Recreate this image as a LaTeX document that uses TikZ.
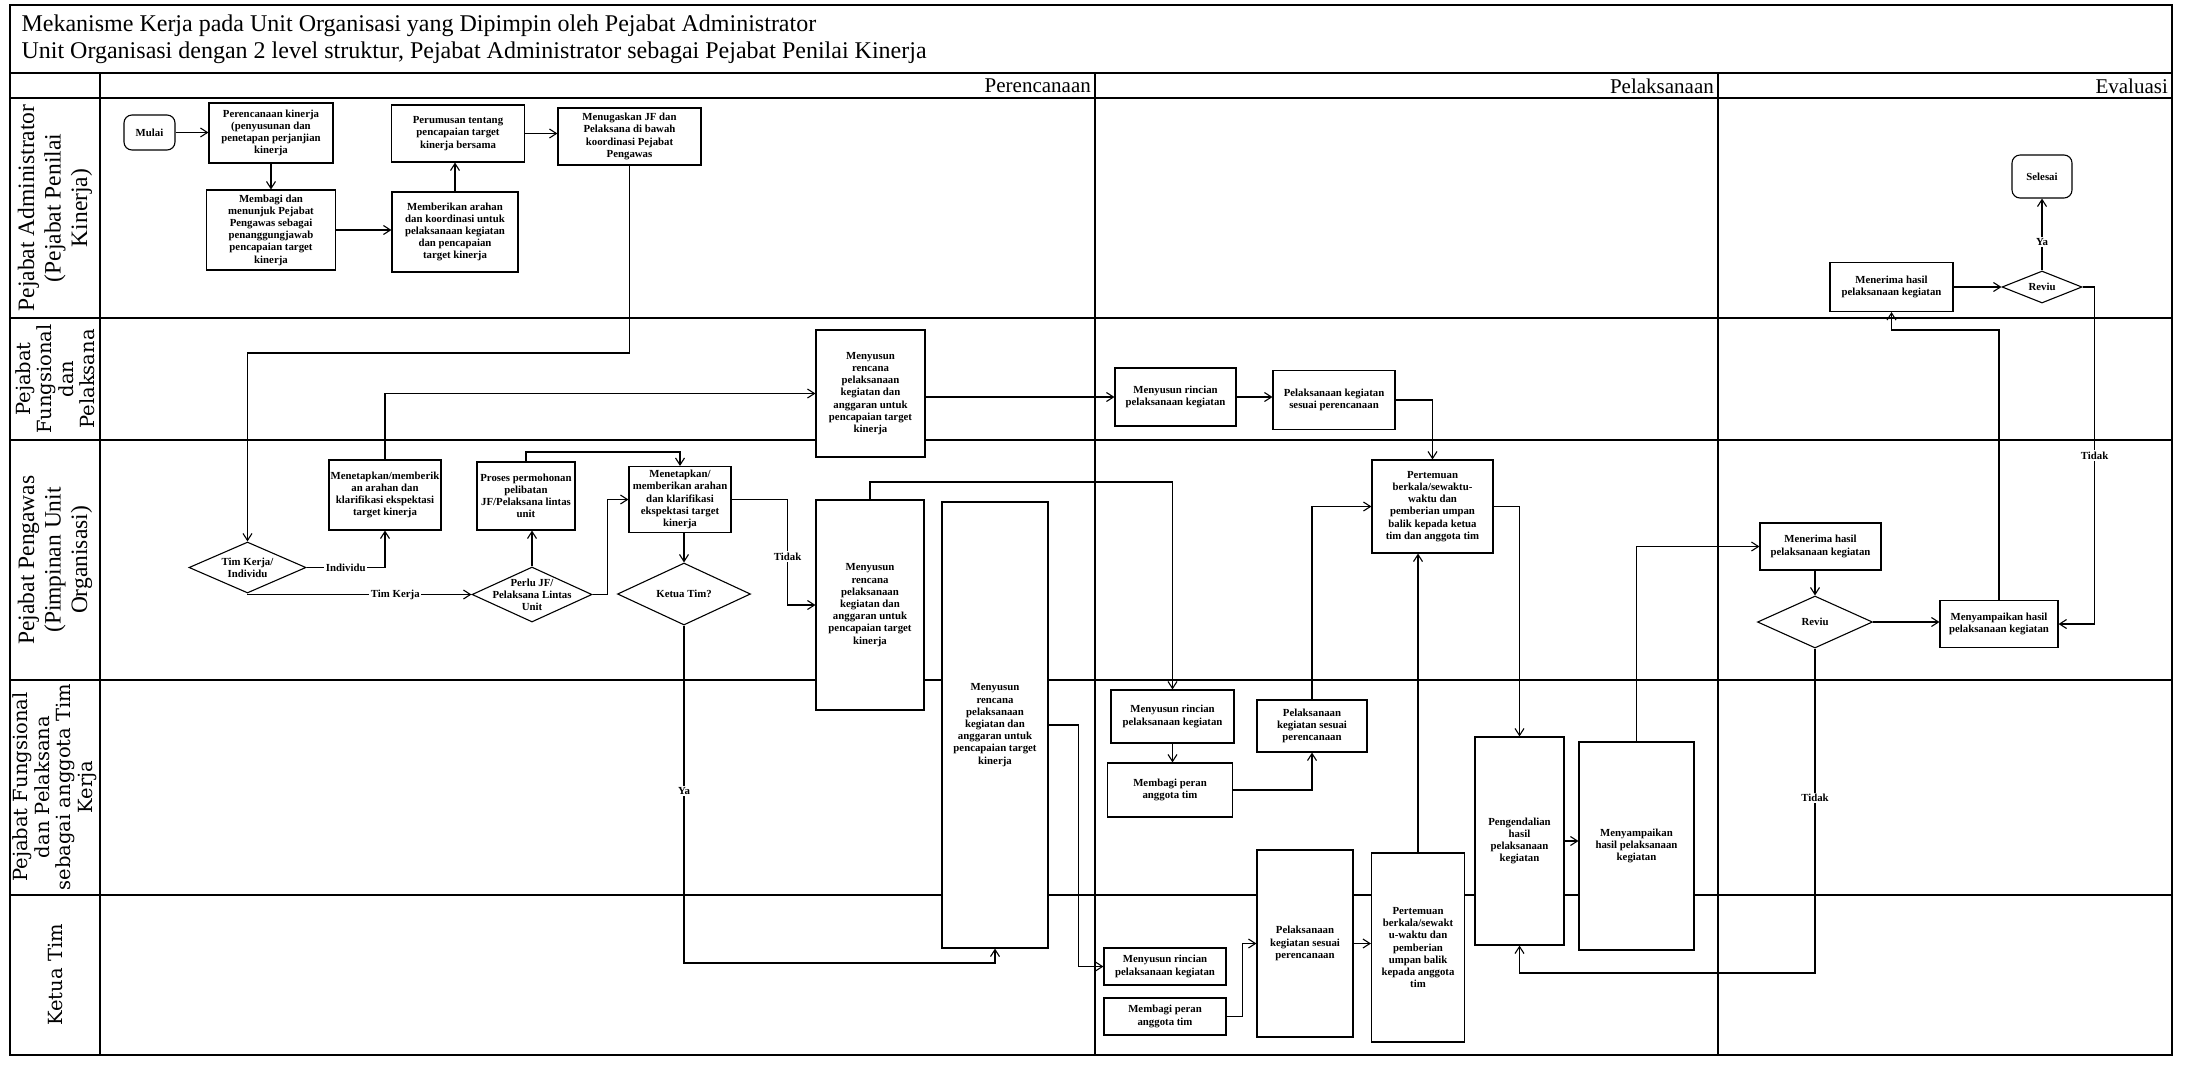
\documentclass[tikz,border=0pt]{standalone}
\usepackage{fontspec}
\setmainfont{Liberation Serif}
\newfontfamily\lanefont{DejaVu Serif}
\usetikzlibrary{shapes.geometric, arrows.meta, positioning}

\begin{document}
\begin{tikzpicture}[
  x=1pt, y=-1pt,
  box/.style={rectangle, draw, fill=white, line width=1.1pt, inner sep=1pt,
              font=\fontsize{10.8}{12.2}\selectfont\bfseries, align=center},
  term/.style={box, rounded corners=8pt},
  dia/.style={diamond, draw, fill=white, line width=1.1pt, inner sep=0pt},
  dtxt/.style={font=\fontsize{10.8}{12.2}\selectfont\bfseries, align=center},
  arr/.style={-{Straight Barb[length=7pt,width=9pt]}, line width=1.1pt},
  lbl/.style={fill=white, inner sep=1.5pt, font=\fontsize{10.8}{12.2}\selectfont\bfseries},
  lane/.style={line width=1.6pt},
  lanelbl/.style={rotate=90, align=center, font=\fontsize{23.5}{26.5}\selectfont},
  lanelbl2/.style={rotate=90, align=center, font=\lanefont\fontsize{19.5}{21.5}\selectfont},
  phase/.style={anchor=east, inner sep=1pt, font=\fontsize{21}{24}\selectfont},
]
  \useasboundingbox (0,0) rectangle (2202,1088);
  \draw[lane] (10,5) rectangle (2172,1055);
  \draw[lane] (10,73) -- (2172,73);
  \draw[lane] (10,98) -- (2172,98);
  \draw[lane] (100,73) -- (100,1055);
  \draw[lane] (1095,73) -- (1095,1055);
  \draw[lane] (1718,73) -- (1718,1055);
  \foreach \y in {318,440,680,895}
    \draw[lane] (10,\y) -- (2172,\y);

  \node[anchor=west, align=left, font=\fontsize{24}{27}\selectfont] (title) at (18,39)
    {Mekanisme Kerja pada Unit Organisasi yang Dipimpin oleh Pejabat Administrator\\
     Unit Organisasi dengan 2 level struktur, Pejabat Administrator sebagai Pejabat Penilai Kinerja};
  \node[phase] (hPlan) at (1092,86) {Perencanaan};
  \node[phase] (hExec) at (1715,86) {Pelaksanaan};
  \node[phase] (hEval) at (2169,86) {Evaluasi};

  \node[lanelbl] (lnAdm) at (55,208) {Pejabat Administrator\\(Pejabat Penilai\\Kinerja)};
  \node[lanelbl2] (lnJF) at (55,379) {Pejabat\\Fungsional\\dan\\Pelaksana};
  \node[lanelbl] (lnPeng) at (55,560) {Pejabat Pengawas\\(Pimpinan Unit\\Organisasi)};
  \node[lanelbl2] (lnAng) at (55,787) {Pejabat Fungsional\\dan Pelaksana\\sebagai anggota Tim\\Kerja};
  \node[lanelbl2] (lnKetua) at (55,975) {Ketua Tim};

  \node[term, minimum width=51, minimum height=35] (mulai) at (149.5,132.5) {Mulai};
  \node[box, minimum width=124, minimum height=60] (plan) at (271,133)
    {Perencanaan kinerja\\(penyusunan dan\\penetapan perjanjian\\kinerja};
  \node[box, minimum width=129, minimum height=80] (bagi) at (271,230)
    {Membagi dan\\menunjuk Pejabat\\Pengawas sebagai\\penanggungjawab\\pencapaian target\\kinerja};
  \node[box, minimum width=126, minimum height=80] (arah) at (455,232)
    {Memberikan arahan\\dan koordinasi untuk\\pelaksanaan kegiatan\\dan pencapaian\\target kinerja};
  \node[box, minimum width=133, minimum height=57] (rumus) at (458,133.5)
    {Perumusan tentang\\pencapaian target\\kinerja bersama};
  \node[box, minimum width=143, minimum height=57] (tugas) at (629.5,136.5)
    {Menugaskan JF dan\\Pelaksana di bawah\\koordinasi Pejabat\\Pengawas};

  \node[box, minimum width=109, minimum height=127] (susun1) at (870.5,393.5)
    {Menyusun\\rencana\\pelaksanaan\\kegiatan dan\\anggaran untuk\\pencapaian target\\kinerja};
  \node[box, minimum width=121, minimum height=58] (rinci1) at (1175.5,397)
    {Menyusun rincian\\pelaksanaan kegiatan};
  \node[box, minimum width=122, minimum height=59] (laks1) at (1334,400)
    {Pelaksanaan kegiatan\\sesuai perencanaan};

  \node[box, minimum width=112, minimum height=70] (tetap1) at (385,495)
    {Menetapkan/memberik\\an arahan dan\\klarifikasi ekspektasi\\target kinerja};
  \node[box, minimum width=98, minimum height=68] (proses) at (526,496)
    {Proses permohonan\\pelibatan\\JF/Pelaksana lintas\\unit};
  \node[box, minimum width=102, minimum height=66] (tetap2) at (680,499.5)
    {Menetapkan/\\memberikan arahan\\dan klarifikasi\\ekspektasi target\\kinerja};
  \node[dia, minimum width=117, minimum height=51,
        label={[dtxt]center:Tim Kerja/\\Individu}] (dTim) at (247.5,567.5) {};
  \node[dia, minimum width=120, minimum height=55,
        label={[dtxt]center:Perlu JF/\\Pelaksana Lintas\\Unit}] (dPerlu) at (532,594.5) {};
  \node[dia, minimum width=133, minimum height=62,
        label={[dtxt]center:Ketua Tim?}] (dKetua) at (684,594) {};
  \node[box, minimum width=108, minimum height=210] (susun2) at (870,605)
    {Menyusun\\rencana\\pelaksanaan\\kegiatan dan\\anggaran untuk\\pencapaian target\\kinerja};
  \node[box, minimum width=106, minimum height=446] (susun3) at (995,725)
    {Menyusun\\rencana\\pelaksanaan\\kegiatan dan\\anggaran untuk\\pencapaian target\\kinerja};
  \node[box, minimum width=121, minimum height=93] (temu1) at (1432.5,506.5)
    {Pertemuan\\berkala/sewaktu-\\waktu dan\\pemberian umpan\\balik kepada ketua\\tim dan anggota tim};
  \node[box, minimum width=121, minimum height=47] (terima2) at (1820.5,546.5)
    {Menerima hasil\\pelaksanaan kegiatan};
  \node[dia, minimum width=115, minimum height=52,
        label={[dtxt]center:Reviu}] (dRevie2) at (1815,622) {};
  \node[box, minimum width=118, minimum height=47] (sampai2) at (1999,624)
    {Menyampaikan hasil\\pelaksanaan kegiatan};

  \node[term, minimum width=60, minimum height=43] (selesai) at (2042,176.5) {Selesai};
  \node[box, minimum width=123, minimum height=49] (terima1) at (1891.5,287)
    {Menerima hasil\\pelaksanaan kegiatan};
  \node[dia, minimum width=80, minimum height=32,
        label={[dtxt]center:Reviu}] (dRevie1) at (2042,287) {};

  \node[box, minimum width=123, minimum height=53] (rinci2) at (1172.5,716.5)
    {Menyusun rincian\\pelaksanaan kegiatan};
  \node[box, minimum width=125, minimum height=54] (bagi2) at (1170,790)
    {Membagi peran\\anggota tim};
  \node[box, minimum width=110, minimum height=52] (laks2) at (1312,726)
    {Pelaksanaan\\kegiatan sesuai\\perencanaan};
  \node[box, minimum width=89, minimum height=208] (kendali) at (1519.5,841)
    {Pengendalian\\hasil\\pelaksanaan\\kegiatan};
  \node[box, minimum width=115, minimum height=208] (sampai1) at (1636.5,846)
    {Menyampaikan\\hasil pelaksanaan\\kegiatan};

  \node[box, minimum width=122, minimum height=37] (rinci3) at (1165,966.5)
    {Menyusun rincian\\pelaksanaan kegiatan};
  \node[box, minimum width=122, minimum height=37] (bagi3) at (1165,1016.5)
    {Membagi peran\\anggota tim};
  \node[box, minimum width=96, minimum height=187] (laks3) at (1305,943.5)
    {Pelaksanaan\\kegiatan sesuai\\perencanaan};
  \node[box, minimum width=93, minimum height=189] (temu2) at (1418,947.5)
    {Pertemuan\\berkala/sewakt\\u-waktu dan\\pemberian\\umpan balik\\kepada anggota\\tim};

  \draw[arr] (mulai.east) -- (mulai.east -| plan.west);
  \draw[arr] (plan.south) -- (plan.south |- bagi.north);
  \draw[arr] (bagi.east) -- (bagi.east -| arah.west);
  \draw[arr] (arah.north) -- (arah.north |- rumus.south);
  \draw[arr] (rumus.east) -- (rumus.east -| tugas.west);
  \draw[arr] (tugas.south) -- (tugas.south |- 0,353) -| (dTim.north);
  \draw[arr] (tetap1.north) |- (susun1.west);
  \draw[arr] (susun1.east |- rinci1.west) -- (rinci1.west);
  \draw[arr] (rinci1.east) -- (rinci1.east -| laks1.west);
  \draw[arr] (laks1.east) -| (temu1.north);
  \draw[arr] (dTim.east) -| node[lbl, pos=0.25] (lIndiv) {Individu} (tetap1.south);
  \draw[arr] (dTim.south) |- node[lbl, pos=0.83] (lTimKerja) {Tim Kerja} (dPerlu.west);
  \draw[arr] (dPerlu.north) -- (dPerlu.north |- proses.south);
  \draw[arr] (proses.north) -- (proses.north |- 0,452) -| (tetap2.north);
  \draw[arr] (dPerlu.east) -- ++(15,0) |- (tetap2.west);
  \draw[arr] (tetap2.south -| dKetua.north) -- (dKetua.north);
  \draw[arr] (tetap2.east) -- ++(56,0) |- node[lbl, pos=0.27] (lTidak1) {Tidak} (susun2.west);
  \draw[arr] (susun2.north) -- (susun2.north |- 0,482) -| (rinci2.north);
  \draw[arr] (dKetua.south) -- node[lbl, pos=0.49] (lYa1) {Ya} (dKetua.south |- 0,963) -| (susun3.south);
  \draw[arr] (susun3.east) -- ++(30,0) |- (rinci3.west);
  \draw[arr] (rinci2.south) -- (rinci2.south |- bagi2.north);
  \draw[arr] (bagi2.east) -| (laks2.south);
  \draw[arr] (laks2.north) |- (temu1.west);
  \draw[arr] (temu1.east) -| (kendali.north);
  \draw[arr] (temu2.north) -- (temu2.north |- temu1.south);
  \draw[arr] (kendali.east) -- (kendali.east -| sampai1.west);
  \draw[arr] (sampai1.north) |- (terima2.west);
  \draw[arr] (dRevie2.north |- terima2.south) -- (dRevie2.north);
  \draw[arr] (dRevie2.east) -- (dRevie2.east -| sampai2.west);
  \draw[arr] (dRevie2.south) -- node[lbl, pos=0.46] (lTidak2) {Tidak} (dRevie2.south |- 0,973) -| (kendali.south);
  \draw[arr] (sampai2.north) -- (sampai2.north |- 0,330) -| (terima1.south);
  \draw[arr] (terima1.east) -- (terima1.east -| dRevie1.west);
  \draw[arr] (dRevie1.north) -- node[lbl, pos=0.4] (lYa2) {Ya} (dRevie1.north |- selesai.south);
  \draw[arr] (dRevie1.east) -- ++(12,0) |- node[lbl, pos=0.25] (lTidak3) {Tidak} (sampai2.east);
  \draw[arr] (bagi3.east) -- ++(16,0) |- (laks3.west);
  \draw[arr] (laks3.east) -- (laks3.east -| temu2.west);
\end{tikzpicture}
\end{document}
